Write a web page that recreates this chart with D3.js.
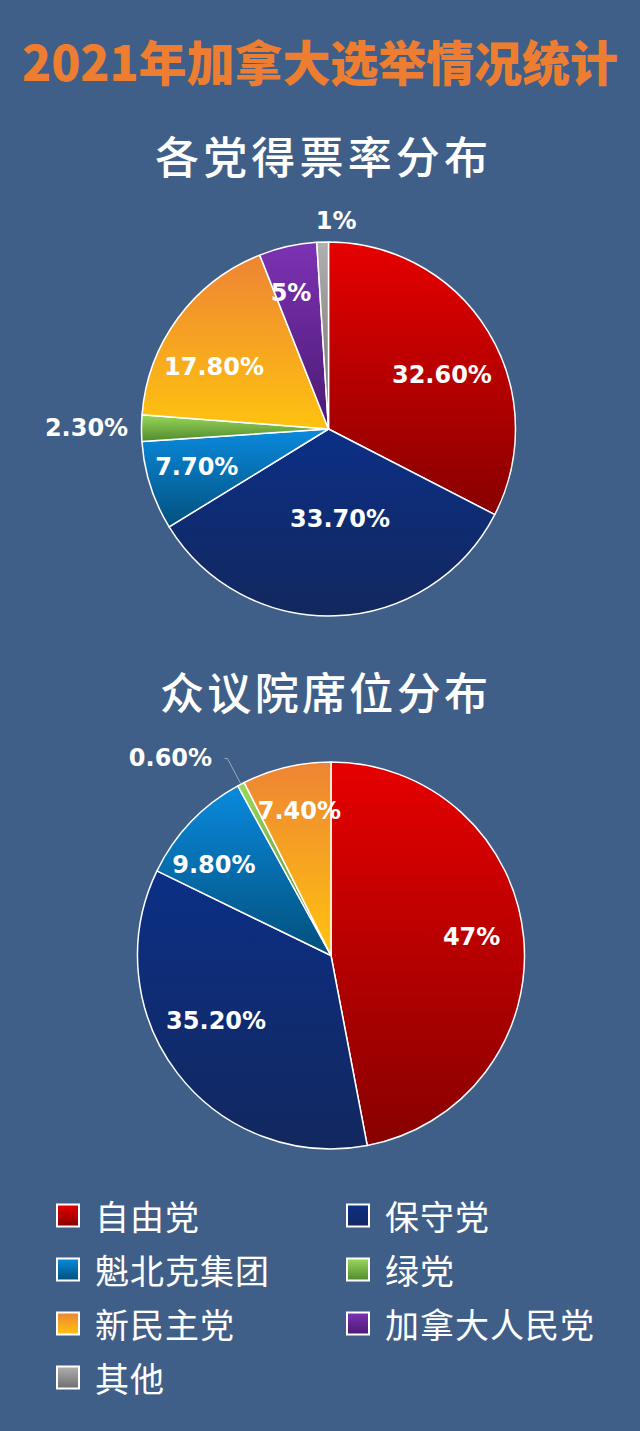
<!DOCTYPE html>
<html>
<head>
<meta charset="utf-8">
<script src="https://cdn.jsdelivr.net/npm/d3@7"></script>
<style>
  html, body { margin: 0; padding: 0; background: #3f5f88; }
  svg { display: block; }
  .title { font-family: "Noto Sans CJK SC", sans-serif; font-weight: 900; fill: #ed7d31; }
  .subtitle { font-family: "Noto Sans CJK SC", sans-serif; font-weight: 500; fill: #ffffff; }
  .slice-label { font-family: "DejaVu Sans", sans-serif; font-weight: bold; fill: #ffffff; }
  .legend-text { font-family: "Noto Sans CJK SC", sans-serif; font-weight: 400; fill: #ffffff; }
</style>
</head>
<body>
<script>
// ---- data ----
const parties = ["自由党", "保守党", "魁北克集团", "绿党", "新民主党", "加拿大人民党", "其他"];
const voteShare = [32.6, 33.7, 7.7, 2.3, 17.8, 5, 1];          // 各党得票率 (%)
const seatParties = ["自由党", "保守党", "魁北克集团", "绿党", "新民主党"];
const seatShare = [47, 35.2, 9.8, 0.6, 7.4];                     // 众议院席位 (%)

// gradient colours per party (top -> bottom)
const colorTop    = ["#e60000", "#0c2f86", "#0a8ade", "#9bd85a", "#ee8434", "#7d32b4", "#b0b0b0"];
const colorBottom = ["#880000", "#12285e", "#02507c", "#4f8a2e", "#ffc30f", "#4a1a72", "#6e6e6e"];

// label placement: radius factor and angular nudge (degrees) per slice
const voteLabelK = [0.672, 0.485, 0.733, 1.294, 0.696, 0.755, 1.113];
const voteLabelNudge = [5.9, -5.1, 1.7, 0, -8, -2.8, 3.9];
const seatLabelK = [0.733, 0.684, 0.764, 1.315, 0.765];
const seatLabelNudge = [-2, 7.7, -6, -11.4, 1];

const W = 640, H = 1431;

const svg = d3.select("body").append("svg")
    .attr("width", W)
    .attr("height", H);

svg.append("rect")
    .attr("width", W)
    .attr("height", H)
    .attr("fill", "#3f5f88");

// gradients (one per party)
const defs = svg.append("defs");
parties.forEach((p, i) => {
    const g = defs.append("linearGradient")
        .attr("id", "grad" + i)
        .attr("x1", 0).attr("y1", 0)
        .attr("x2", 0).attr("y2", 1);
    g.append("stop").attr("offset", "0%").attr("stop-color", colorTop[i]);
    g.append("stop").attr("offset", "100%").attr("stop-color", colorBottom[i]);
});

// main title
svg.append("text")
    .attr("class", "title")
    .attr("x", 22)
    .attr("y", 81)
    .attr("font-size", 48)
    .attr("textLength", 596)
    .attr("lengthAdjust", "spacing")
    .text("2021年加拿大选举情况统计");

function fmt(v) {
    return (v % 1 === 0) ? v + "%" : v.toFixed(2) + "%";
}

// draws one pie with its labels
function drawPie(opts) {
    const g = svg.append("g")
        .attr("transform", "translate(" + opts.cx + "," + opts.cy + ")");

    const pie = d3.pie().sort(null).value(d => d.value);
    const arc = d3.arc().innerRadius(0).outerRadius(opts.r);
    const arcs = pie(opts.names.map((n, i) => ({ name: n, value: opts.values[i], idx: parties.indexOf(n) })));

    g.selectAll("path.slice")
        .data(arcs)
        .enter().append("path")
            .attr("class", "slice")
            .attr("d", arc)
            .attr("fill", d => "url(#grad" + d.data.idx + ")")
            .attr("stroke", "#ffffff")
            .attr("stroke-width", 1.5)
            .attr("stroke-linejoin", "round");

    // optional leader lines for tiny slices
    (opts.leaders || []).forEach(li => {
        const d = arcs[li];
        const a = (d.startAngle + d.endAngle) / 2;
        const p0 = [opts.r * Math.sin(a), -opts.r * Math.cos(a)];
        const p1 = [opts.r * 1.15 * Math.sin(a), -opts.r * 1.15 * Math.cos(a)];
        const p2 = [p1[0] - 3, p1[1]];
        g.append("polyline")
            .attr("points", [p0, p1, p2].map(p => p.join(",")).join(" "))
            .attr("fill", "none")
            .attr("stroke", "#9aa8bc")
            .attr("stroke-width", 1);
    });

    g.selectAll("text.slice-label")
        .data(arcs)
        .enter().append("text")
            .attr("class", "slice-label")
            .attr("font-size", 24)
            .attr("text-anchor", "middle")
            .attr("dominant-baseline", "central")
            .attr("x", (d, i) => {
                const a = (d.startAngle + d.endAngle) / 2 + opts.nudge[i] * Math.PI / 180;
                return opts.r * opts.k[i] * Math.sin(a);
            })
            .attr("y", (d, i) => {
                const a = (d.startAngle + d.endAngle) / 2 + opts.nudge[i] * Math.PI / 180;
                return -opts.r * opts.k[i] * Math.cos(a);
            })
            .text(d => fmt(d.data.value));
}

// first pie: vote share
svg.append("text")
    .attr("class", "subtitle")
    .attr("x", 155)
    .attr("y", 174)
    .attr("font-size", 44)
    .attr("textLength", 333)
    .attr("lengthAdjust", "spacing")
    .text("各党得票率分布");

drawPie({
    cx: 328.5, cy: 429, r: 187,
    names: parties, values: voteShare,
    k: voteLabelK, nudge: voteLabelNudge
});

// second pie: seats
svg.append("text")
    .attr("class", "subtitle")
    .attr("x", 160)
    .attr("y", 710)
    .attr("font-size", 44)
    .attr("textLength", 328)
    .attr("lengthAdjust", "spacing")
    .text("众议院席位分布");

drawPie({
    cx: 331, cy: 955.5, r: 193.5,
    names: seatParties, values: seatShare,
    k: seatLabelK, nudge: seatLabelNudge,
    leaders: [3]
});

// legend, two columns
const legend = svg.append("g").attr("class", "legend");
const colX = [57, 347], rowY0 = 1215.5, rowStep = 54;

const items = legend.selectAll("g.item")
    .data(parties)
    .enter().append("g")
        .attr("class", "item")
        .attr("transform", (d, i) => "translate(" + colX[i % 2] + "," + (rowY0 + Math.floor(i / 2) * rowStep) + ")");

items.append("rect")
    .attr("x", 0)
    .attr("y", -11)
    .attr("width", 22)
    .attr("height", 22)
    .attr("fill", (d, i) => "url(#grad" + i + ")")
    .attr("stroke", "#ffffff")
    .attr("stroke-width", 2);

items.append("text")
    .attr("class", "legend-text")
    .attr("x", 38)
    .attr("y", 14.5)
    .attr("font-size", 34)
    .attr("letter-spacing", 1)
    .text(d => d);
</script>
</body>
</html>
